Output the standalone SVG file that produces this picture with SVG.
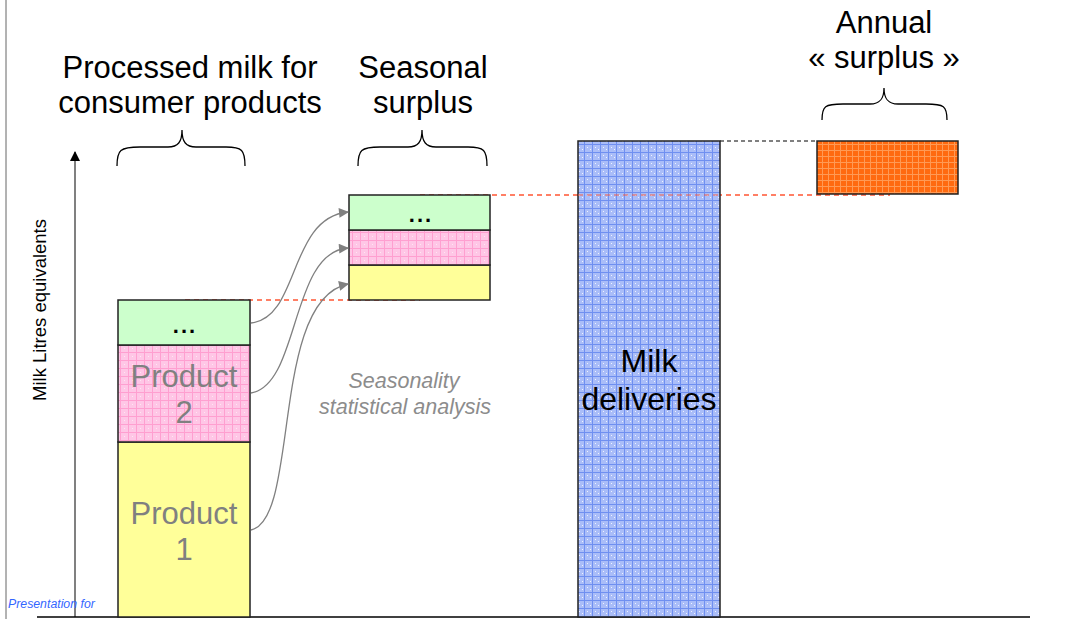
<svg xmlns="http://www.w3.org/2000/svg" width="1066" height="619" viewBox="0 0 1066 619">
<style>
.big{font-family:"Liberation Sans",Arial,sans-serif;font-size:31px;fill:#000;text-anchor:middle}
.prod{font-family:"Liberation Sans",Arial,sans-serif;font-size:31px;fill:#808080;text-anchor:middle}
.dots{font-family:"Liberation Sans",Arial,sans-serif;font-size:22px;font-weight:bold;fill:#000;text-anchor:middle;letter-spacing:2px}
.note{font-family:"Liberation Sans",Arial,sans-serif;font-size:21.5px;font-style:italic;fill:#8c8c8c;text-anchor:middle}
.box{stroke:#222;stroke-width:1.5}
.brace{fill:none;stroke:#000;stroke-width:1.3}
.conn{fill:none;stroke:#808080;stroke-width:1.3}
.red{stroke:#ff5533;stroke-width:1.5;stroke-dasharray:5,4;fill:none}
</style>
<defs>
<pattern id="pinkP" width="8" height="8" patternUnits="userSpaceOnUse">
<rect width="8" height="8" fill="#ffc6e6"/>
<path d="M0,0.5H8M0.5,0V8" stroke="#ff9fd0" stroke-width="1"/>
<rect x="4" y="4" width="1" height="1" fill="#ffe6f2"/>
</pattern>
<pattern id="blueP" width="8" height="8" patternUnits="userSpaceOnUse">
<rect width="8" height="8" fill="#aabdf8"/>
<path d="M0,0.5H8M0.5,0V8" stroke="#6f8ff0" stroke-width="1"/>
<rect x="3" y="3" width="1" height="1" fill="#eef2ff"/>
<rect x="6" y="5" width="1" height="1" fill="#eef2ff"/>
</pattern>
<pattern id="orangeP" width="6" height="6" patternUnits="userSpaceOnUse">
<rect width="6" height="6" fill="#ff6a10"/>
<path d="M0,0.5H6M0.5,0V6" stroke="#ff9a55" stroke-width="1"/>
</pattern>
<marker id="arr" viewBox="0 0 10 10" refX="9" refY="5" markerWidth="8" markerHeight="8" markerUnits="userSpaceOnUse" orient="auto">
<path d="M0,0L10,5L0,10z" fill="#808080"/>
</marker>
<marker id="arr2" viewBox="0 0 10 10" refX="9" refY="5" markerWidth="12" markerHeight="10" markerUnits="userSpaceOnUse" orient="auto">
<path d="M0,0L10,5L0,10z" fill="#808080"/>
</marker>
<marker id="axarr" viewBox="0 0 10 10" refX="9" refY="5" markerWidth="5" markerHeight="5" orient="auto">
<path d="M0,0L10,5L0,10z" fill="#000"/>
</marker>
</defs>
<rect width="1066" height="619" fill="#fff"/>
<line x1="6" y1="0" x2="6" y2="619" stroke="#666" stroke-width="1"/>

<g id="axes">
<line x1="75" y1="617" x2="75" y2="152" stroke="#808080" stroke-width="2" marker-end="url(#axarr)"/>
<line x1="37" y1="617" x2="1030" y2="617" stroke="#000" stroke-width="1.5"/>
<text transform="translate(46,310) rotate(-90)" font-family="Liberation Sans,Arial,sans-serif" font-size="18.5" text-anchor="middle" fill="#000">Milk Litres equivalents</text>
</g>

<g id="guides">
<line class="red" x1="185" y1="300" x2="420" y2="300"/>
<line class="red" x1="420" y1="195" x2="890" y2="195"/>
<line x1="720" y1="141" x2="817" y2="141" stroke="#000" stroke-width="1" stroke-dasharray="4,3"/>
</g>

<g id="consumer-stack">
<rect class="box" x="118" y="442" width="132" height="175" fill="#ffff99"/>
<rect class="box" x="118" y="345" width="132" height="97" fill="url(#pinkP)"/>
<rect class="box" x="118" y="300" width="132" height="45" fill="#ccffcc"/>
<text class="dots" x="185" y="333">...</text>
<text class="prod" x="184" y="387">Product</text>
<text class="prod" x="184" y="423">2</text>
<text class="prod" x="184" y="524">Product</text>
<text class="prod" x="184" y="560">1</text>
</g>

<g id="seasonal-stack">
<rect class="box" x="349" y="265" width="141" height="35" fill="#ffff99"/>
<rect class="box" x="349" y="230" width="141" height="35" fill="url(#pinkP)"/>
<rect class="box" x="349" y="195" width="141" height="35" fill="#ccffcc"/>
<text class="dots" x="421" y="222">...</text>
</g>

<g id="milk-deliveries">
<rect class="box" x="578" y="141" width="142" height="476" fill="url(#blueP)"/>
<text class="big" x="649" y="372" style="font-size:32px">Milk</text>
<text class="big" x="649" y="410" style="font-size:32px">deliveries</text>
</g>
<line class="red" x1="578" y1="195" x2="720" y2="195" opacity="0.6"/>

<g id="annual-surplus">
<rect class="box" x="817" y="141" width="141" height="53" fill="url(#orangeP)"/>
</g>

<g id="labels">
<text class="big" x="190" y="78">Processed milk for</text>
<text class="big" x="190" y="113">consumer products</text>
<path class="brace" d="M117,166 C117,150 120,147 140,147 L168,147 C178,147 182,142 182,130 C182,142 186,147 196,147 L226,147 C242,147 245,150 245,166"/>
<text class="big" x="423" y="78">Seasonal</text>
<text class="big" x="423" y="113">surplus</text>
<path class="brace" d="M358,166 C358,150 361,147 380,147 L408,147 C418,147 422,142 422,130 C422,142 426,147 436,147 L468,147 C484,147 487,150 487,166"/>
<text class="big" x="884" y="33">Annual</text>
<text class="big" x="884" y="68">« surplus »</text>
<path class="brace" d="M822,120 C822,106 825,104 843,104 L870,104 C880,104 884,99 884,88 C884,99 888,104 898,104 L926,104 C944,104 947,106 947,120"/>
<text class="note" x="404" y="388">Seasonality</text>
<text class="note" x="405" y="414">statistical analysis</text>
<text x="8" y="608" font-family="Liberation Sans,Arial,sans-serif" font-size="12.3" font-style="italic" fill="#3366ff">Presentation for</text>
</g>

<g id="connectors">
<path class="conn" d="M251,323 C300,318 288,218 348,212" marker-end="url(#arr2)"/>
<path class="conn" d="M251,393 C300,385 290,252 348,248" marker-end="url(#arr2)"/>
<path class="conn" d="M251,530 C300,520 270,300 348,284" marker-end="url(#arr2)"/>
</g>
</svg>
